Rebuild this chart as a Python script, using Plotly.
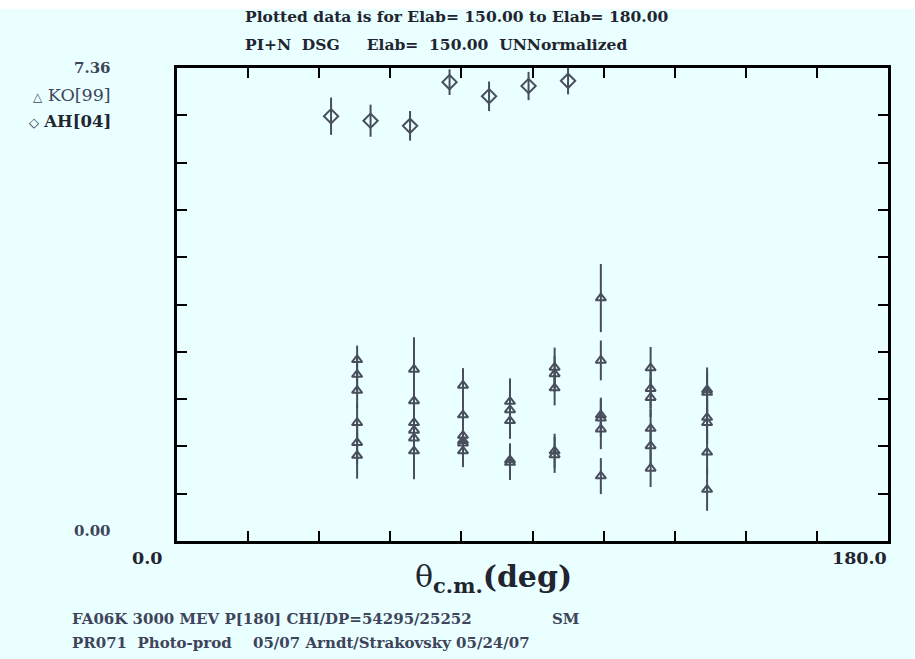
import plotly.graph_objects as go

# KO[99] differential cross sections (triangles)
ko_theta = [45.6] * 6 + [60.0] * 6 + [72.4] * 6 + [84.3] * 5 + [95.6] * 5 + [107.3] * 6 + [119.9] * 6 + [134.2] * 6
ko_dsg = [2.82, 2.59, 2.34, 1.84, 1.53, 1.33,
          2.67, 2.18, 1.84, 1.72, 1.60, 1.40,
          2.42, 1.96, 1.64, 1.56, 1.52, 1.40,
          2.17, 2.04, 1.87, 1.26, 1.22,
          2.70, 2.60, 2.38, 1.40, 1.34,
          3.78, 2.81, 1.96, 1.91, 1.74, 1.01,
          2.69, 2.37, 2.23, 1.75, 1.48, 1.13,
          2.35, 2.31, 1.92, 1.84, 1.38, 0.80]
ko_err = [0.22, 0.25, 0.28, 0.30, 0.33, 0.36,
          0.50, 0.40, 0.40, 0.42, 0.42, 0.44,
          0.27, 0.25, 0.25, 0.25, 0.25, 0.25,
          0.36, 0.30, 0.28, 0.26, 0.27,
          0.31, 0.28, 0.27, 0.27, 0.28,
          0.53, 0.31, 0.27, 0.29, 0.31, 0.28,
          0.33, 0.30, 0.30, 0.30, 0.30, 0.29,
          0.35, 0.33, 0.33, 0.33, 0.33, 0.33]

# AH[04] differential cross sections (diamonds)
ah_theta = [39, 49, 59, 69, 79, 89, 99]
ah_dsg = [6.61, 6.54, 6.46, 7.14, 6.92, 7.08, 7.16]
ah_err = [0.29, 0.25, 0.23, 0.20, 0.23, 0.22, 0.21]

x_range = [0.0, 180.0]
y_range = [0.0, 7.36]
n_div = 10

bg = "rgb(234,255,255)"
mark = "rgb(72,78,92)"
ink = "rgb(34,37,48)"
soft = "rgb(62,68,90)"
serif = "DejaVu Serif"

fig = go.Figure()
fig.add_trace(go.Scatter(
    x=ko_theta, y=ko_dsg, mode="markers", name="KO[99]",
    marker=dict(symbol="triangle-up-open", size=9, color=mark, line=dict(width=2, color=mark)),
    error_y=dict(type="data", array=ko_err, visible=True, thickness=2, width=0, color=mark),
))
fig.add_trace(go.Scatter(
    x=ah_theta, y=ah_dsg, mode="markers", name="AH[04]",
    marker=dict(symbol="diamond-open", size=11, color=mark, line=dict(width=2, color=mark)),
    error_y=dict(type="data", array=ah_err, visible=True, thickness=2, width=0, color=mark),
))

axis_common = dict(
    showgrid=False, zeroline=False, showline=True, linecolor="black", linewidth=2.5,
    mirror="ticks", ticks="inside", ticklen=10, tickwidth=2, tickcolor="black",
    showticklabels=False,
)
fig.update_xaxes(range=x_range, tick0=x_range[0], dtick=(x_range[1] - x_range[0]) / n_div, **axis_common)
fig.update_yaxes(range=y_range, tick0=y_range[0], dtick=(y_range[1] - y_range[0]) / n_div, **axis_common)

ann = []

W, H = 915, 659
L, R, T, B = 177, 27, 68, 118
pw, ph = W - L - R, H - T - B


def px(xp):
    return (xp - L) / pw


def py(yp):
    return (H - B - yp) / ph


def txt(text, x, y, size, xanchor="left", color=ink):
    ann.append(dict(text=text, x=px(x), y=py(y), xref="paper", yref="paper",
                    xanchor=xanchor, yanchor="middle", showarrow=False,
                    font=dict(family=serif, size=size, color=color)))


txt("<b>Plotted data is for Elab= 150.00 to Elab= 180.00</b>", 243, 17, 15.5)
txt("<b>PI+N  DSG     Elab=  150.00  UNNormalized</b>", 243, 44, 15.5)
txt("<b>%.2f</b>" % y_range[1], 113, 68, 15, xanchor="right", color=soft)
txt("<b>%.2f</b>" % y_range[0], 113, 531, 15, xanchor="right", color=soft)
txt("<span style='font-size:12px'>△</span> KO[99]", 113, 95, 17.5, xanchor="right", color=soft)
txt("<span style='font-size:13px'>◇</span> <b>AH[04]</b>", 113, 122, 16.5, xanchor="right", color=ink)
txt("<b>%.1f</b>" % x_range[0], 164, 558, 17.5, xanchor="right")
txt("<b>%.1f</b>" % x_range[1], 889, 558, 17.5, xanchor="right")
txt("θ<sub><b>c.m.</b></sub><b>(deg)</b>", 493, 578, 30, xanchor="center")
txt("<b>FA06K 3000 MEV P[180] CHI/DP=54295/25252</b>", 70, 619, 15, color=soft)
txt("<b>SM</b>", 550, 619, 15, color=soft)
txt("<b>PR071  Photo-prod</b>", 70, 643, 15, color=soft)
txt("<b>05/07 Arndt/Strakovsky 05/24/07</b>", 251, 643, 15, color=soft)

fig.update_layout(
    width=W, height=H,
    margin=dict(l=L, r=R, t=T, b=B),
    paper_bgcolor=bg, plot_bgcolor=bg,
    showlegend=False,
    annotations=ann,
    shapes=[dict(type="rect", xref="paper", yref="paper", x0=px(0), x1=px(W), y0=py(9), y1=py(0),
                 fillcolor="white", line=dict(width=0), layer="below")],
    font=dict(family=serif, color=ink),
)

fig.write_html("out.html")
